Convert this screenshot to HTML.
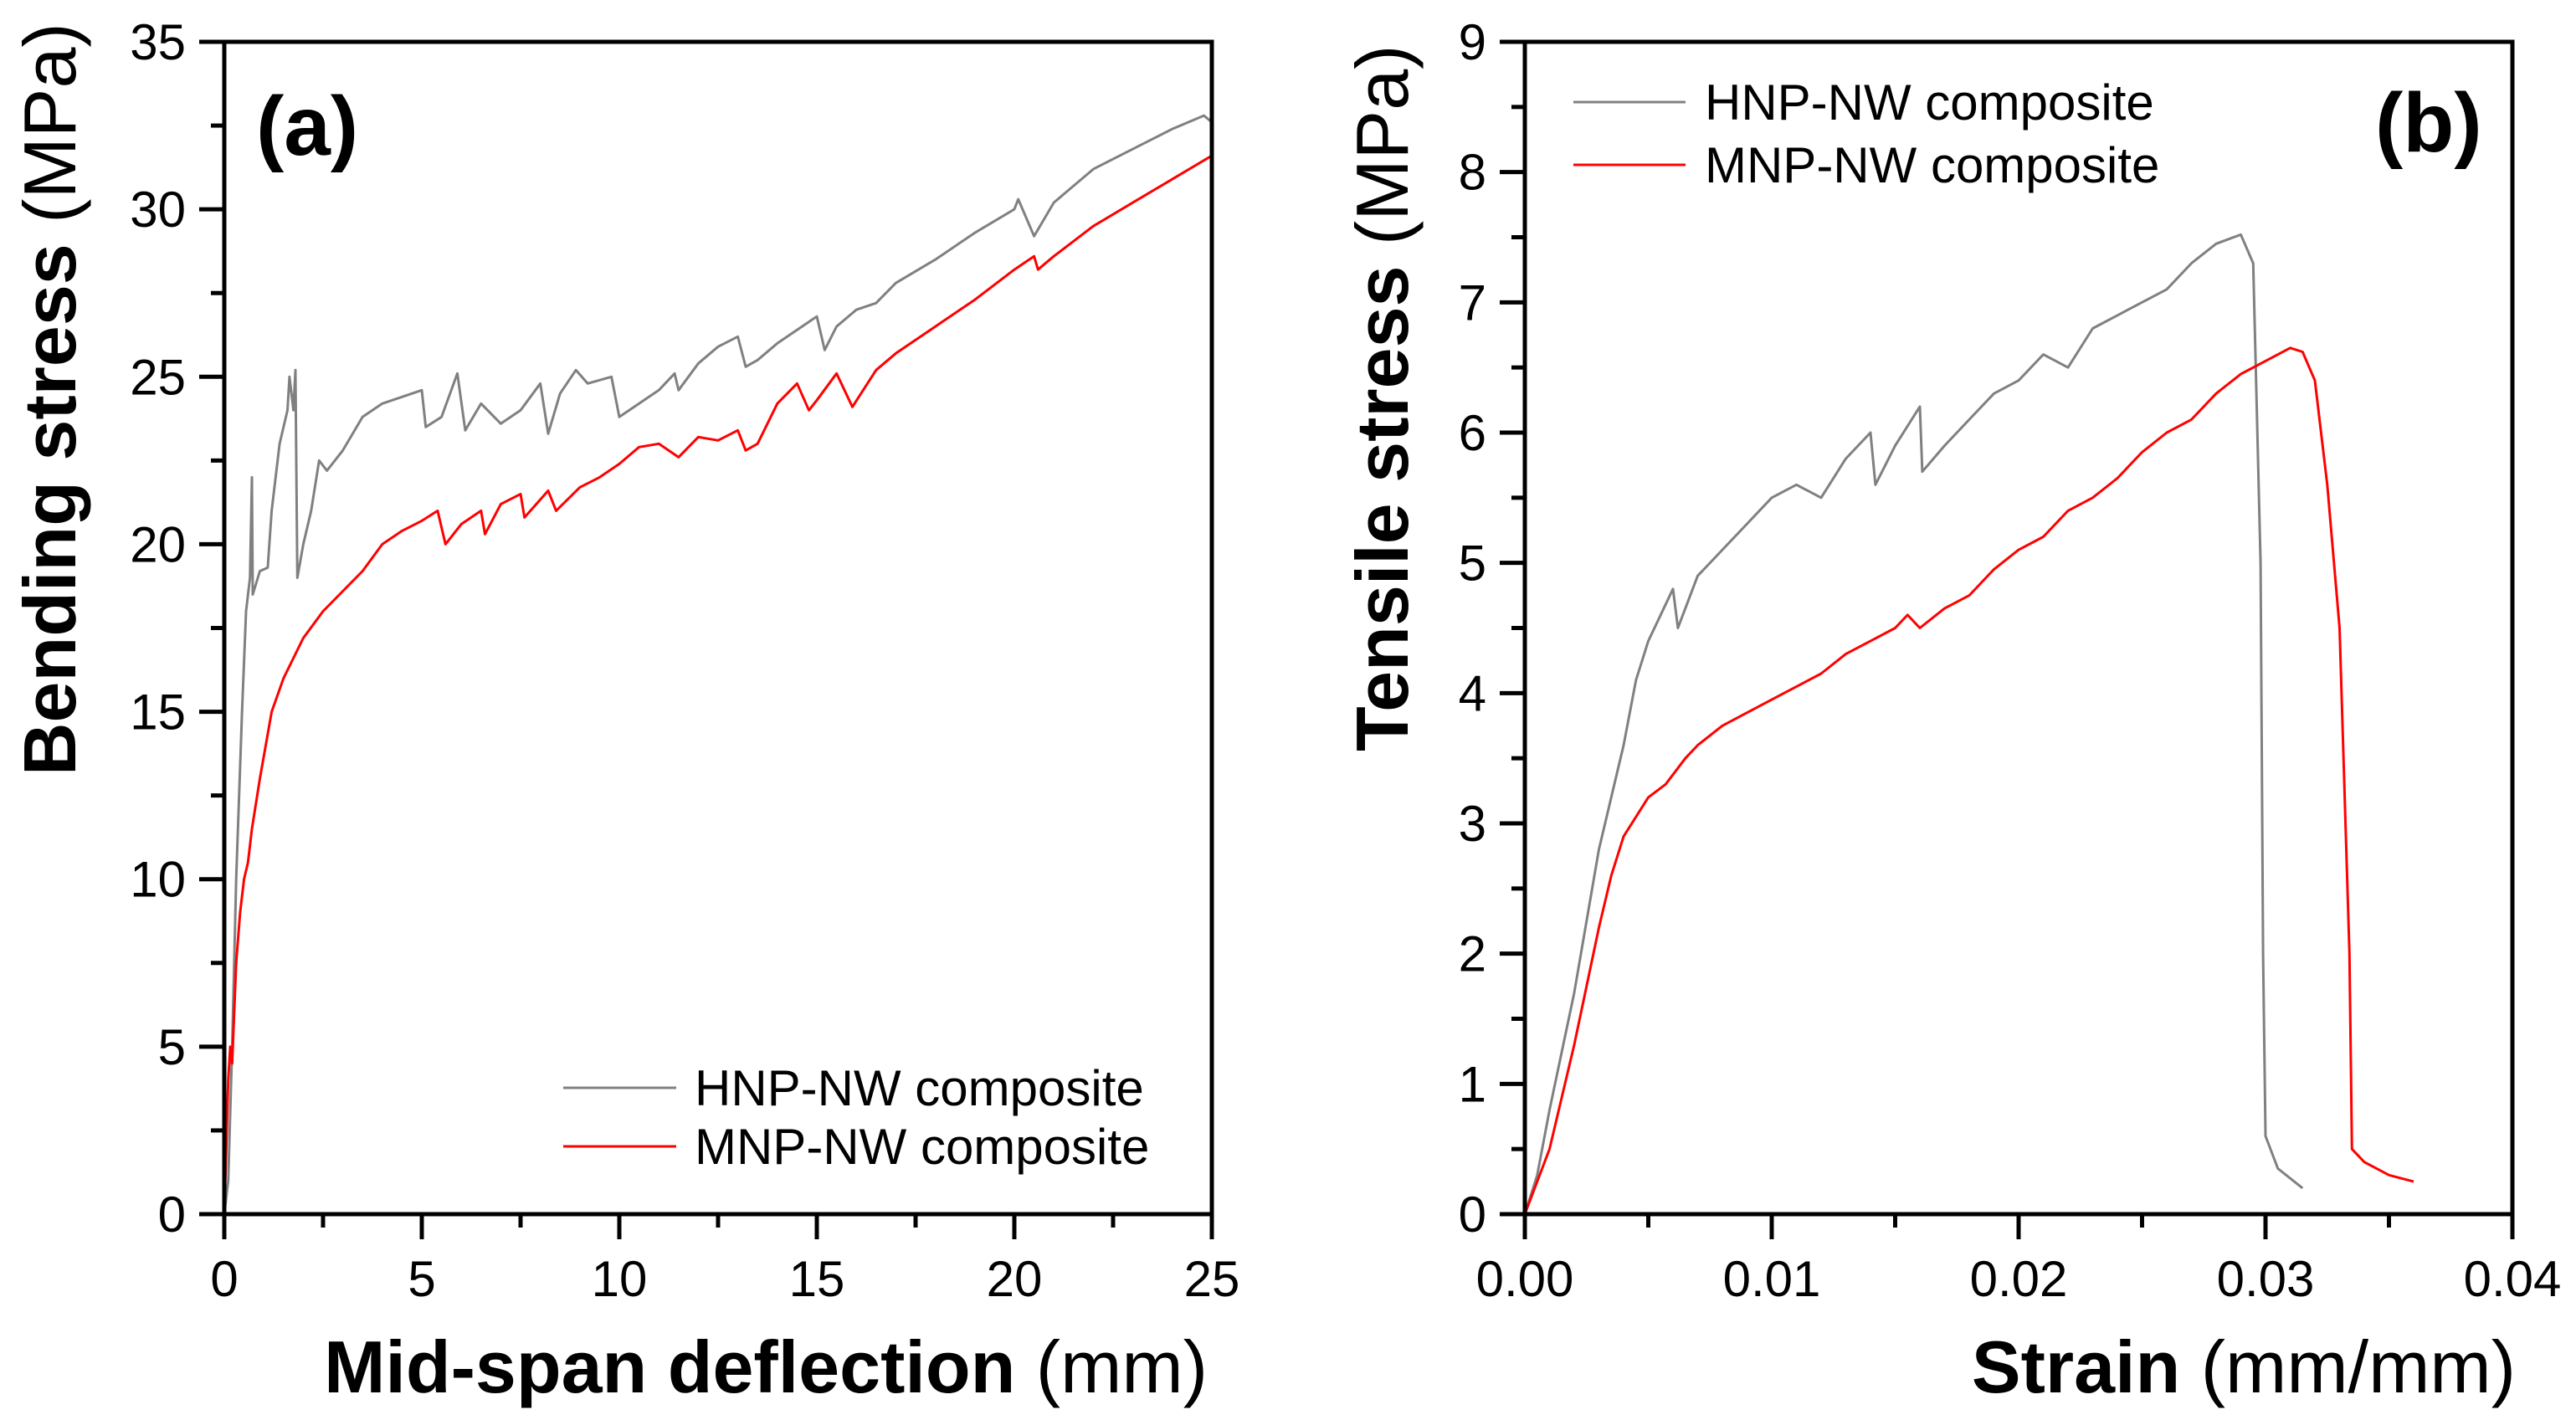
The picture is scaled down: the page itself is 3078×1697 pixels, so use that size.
<!DOCTYPE html>
<html><head><meta charset="utf-8"><style>
html,body{margin:0;padding:0;background:#fff}
svg{display:block;font-family:"Liberation Sans",Arial,sans-serif}
</style></head><body>
<svg id="fig" width="3078" height="1697" viewBox="0 0 3078 1697" xmlns="http://www.w3.org/2000/svg"></svg>
<script>
// Panel (a) data: deflection (mm), bending stress (MPa)
const aHnpX=[0,0.1,0.2,0.3,0.45,0.55,0.65,0.7,0.72,0.9,1.1,1.2,1.4,1.6,1.65,1.75,1.8,1.85,2.0,2.2,2.4,2.6,3,3.5,4,4.5,5,5.1,5.5,5.9,6.1,6.5,7,7.5,8,8.2,8.5,8.9,9.2,9.8,10,10.5,11,11.4,11.5,12,12.5,13,13.2,13.5,14,14.5,15,15.2,15.5,16,16.5,17,18,19,20,20.1,20.5,21,22,23,24,24.8,25];
const aHnpY=[0,1,5,10,15,18,19,22,18.5,19.2,19.3,21,23,24,25,24,25.2,19,20,21,22.5,22.2,22.8,23.8,24.2,24.4,24.6,23.5,23.8,25.1,23.4,24.2,23.6,24,24.8,23.3,24.5,25.2,24.8,25,23.8,24.2,24.6,25.1,24.6,25.4,25.9,26.2,25.3,25.5,26,26.4,26.8,25.8,26.5,27,27.2,27.8,28.5,29.3,30,30.3,29.2,30.2,31.2,31.8,32.4,32.8,32.6];
const aMnpX=[0,0.05,0.1,0.15,0.2,0.3,0.4,0.5,0.6,0.7,0.9,1.2,1.5,2,2.5,3,3.5,4,4.5,5,5.4,5.6,6,6.5,6.6,7,7.5,7.6,8.2,8.4,9,9.5,10,10.5,11,11.5,12,12.5,13,13.2,13.5,14,14.5,14.8,15,15.5,15.9,16.5,17,18,19,20,20.5,20.6,21,22,23,24,25];
const aMnpY=[0,2,4,5,4.5,7.5,9,10,10.5,11.5,13,15,16,17.2,18,18.6,19.2,20,20.4,20.7,21,20,20.6,21,20.3,21.2,21.5,20.8,21.6,21,21.7,22,22.4,22.9,23,22.6,23.2,23.1,23.4,22.8,23,24.2,24.8,24,24.3,25.1,24.1,25.2,25.7,26.5,27.3,28.2,28.6,28.2,28.6,29.5,30.2,30.9,31.6];
const aXTicks=[0,5,10,15,20,25];
const aYTicks=[0,5,10,15,20,25,30,35];
// Panel (b) data: strain (mm/mm), tensile stress (MPa)
const bHnpX=[0,0.0005,0.001,0.002,0.003,0.004,0.0045,0.005,0.006,0.0062,0.007,0.008,0.009,0.010,0.011,0.012,0.013,0.014,0.0142,0.015,0.016,0.0161,0.017,0.018,0.019,0.020,0.021,0.022,0.023,0.024,0.025,0.026,0.027,0.028,0.029,0.0295,0.0298,0.0299,0.030,0.0305,0.0315];
const bHnpY=[0,0.3,0.8,1.7,2.8,3.6,4.1,4.4,4.8,4.5,4.9,5.1,5.3,5.5,5.6,5.5,5.8,6.0,5.6,5.9,6.2,5.7,5.9,6.1,6.3,6.4,6.6,6.5,6.8,6.9,7.0,7.1,7.3,7.45,7.52,7.3,5,2,0.6,0.35,0.2];
const bMnpX=[0,0.001,0.002,0.003,0.0035,0.004,0.005,0.0057,0.0065,0.007,0.008,0.009,0.010,0.011,0.012,0.013,0.014,0.015,0.0155,0.016,0.017,0.018,0.019,0.020,0.021,0.022,0.023,0.024,0.025,0.026,0.027,0.028,0.029,0.030,0.031,0.0315,0.032,0.0325,0.033,0.0334,0.0335,0.034,0.035,0.036];
const bMnpY=[0,0.5,1.3,2.2,2.6,2.9,3.2,3.3,3.5,3.6,3.75,3.85,3.95,4.05,4.15,4.3,4.4,4.5,4.6,4.5,4.65,4.75,4.95,5.1,5.2,5.4,5.5,5.65,5.85,6.0,6.1,6.3,6.45,6.55,6.65,6.62,6.4,5.6,4.5,2.0,0.5,0.4,0.3,0.25];
const bXTicks=[0,0.01,0.02,0.03,0.04];
const bXTickLabels=["0.00","0.01","0.02","0.03","0.04"];
const bYTicks=[0,1,2,3,4,5,6,7,8,9];

const NS="http://www.w3.org/2000/svg";
const svg=document.getElementById('fig');
function mk(tag,attrs,parent){const e=document.createElementNS(NS,tag);for(const k in attrs)e.setAttribute(k,attrs[k]);(parent||svg).appendChild(e);return e;}

function panel(o){
  const g=mk('g',{});
  
  
  const sx=v=>o.x0+(v-o.xmin)/(o.xmax-o.xmin)*(o.x1-o.x0);
  const sy=v=>o.y0-(v-o.ymin)/(o.ymax-o.ymin)*(o.y0-o.y1);
  o.series.forEach(s=>{
    let d='';
    s.x.forEach((v,i)=>{d+=(i?'L':'M')+sx(v).toFixed(1)+' '+sy(s.y[i]).toFixed(1);});
    const p=mk('path',{d:d,fill:'none',stroke:s.color,'stroke-width':3,'stroke-linejoin':'round'},g);
    
    
  });
  const fr=mk('rect',{x:o.x0,y:o.y1,width:o.x1-o.x0,height:o.y0-o.y1,fill:'none',stroke:'#000','stroke-width':5},g);
  
  
  o.xt.forEach((v,i)=>{
    const X=sx(v);
    mk('line',{x1:X,x2:X,y1:o.y0,y2:o.y0+30,stroke:'#000','stroke-width':5},g);
    const t=mk('text',{x:X,y:o.y0+98,'font-size':60,'text-anchor':'middle',fill:'#000'},g);
    t.textContent=o.xl?o.xl[i]:String(v);
    
    
    if(i<o.xt.length-1){const M=sx(v+o.xstep/2);mk('line',{x1:M,x2:M,y1:o.y0,y2:o.y0+16,stroke:'#000','stroke-width':5},g);}
  });
  o.yt.forEach((v,i)=>{
    const Y=sy(v);
    mk('line',{x1:o.x0-30,x2:o.x0,y1:Y,y2:Y,stroke:'#000','stroke-width':5},g);
    const t=mk('text',{x:o.x0-46,y:Y+21,'font-size':60,'text-anchor':'end',fill:'#000'},g);
    t.textContent=String(v);
    
    
    if(i<o.yt.length-1){const M=sy(v+o.ystep/2);mk('line',{x1:o.x0-16,x2:o.x0,y1:M,y2:M,stroke:'#000','stroke-width':5},g);}
  });
  return g;
}

panel({name:'panel-a',x0:268,x1:1448,y0:1451,y1:50,xmin:0,xmax:25,ymin:0,ymax:35,xt:aXTicks,yt:aYTicks,xstep:5,ystep:5,
  series:[{name:'hnp-nw-line-a',x:aHnpX,y:aHnpY,color:'#808080'},{name:'mnp-nw-line-a',x:aMnpX,y:aMnpY,color:'#ff0000'}]});
panel({name:'panel-b',x0:1822,x1:3002,y0:1451,y1:50,xmin:0,xmax:0.04,ymin:0,ymax:9,xt:bXTicks,xl:bXTickLabels,yt:bYTicks,xstep:0.01,ystep:1,
  series:[{name:'hnp-nw-line-b',x:bHnpX,y:bHnpY,color:'#808080'},{name:'mnp-nw-line-b',x:bMnpX,y:bMnpY,color:'#ff0000'}]});
</script>
<script>
(function(){
const NS="http://www.w3.org/2000/svg";
const svg=document.getElementById('fig');
const extra=`
<text x="306" y="185" font-size="100" font-weight="bold">(a)</text>
<text x="2838" y="181" font-size="100" font-weight="bold">(b)</text>
<text x="1443" y="1664" font-size="88" text-anchor="end"><tspan font-weight="bold">Mid-span deflection</tspan> (mm)</text>
<text x="3006" y="1664" font-size="88" text-anchor="end"><tspan font-weight="bold">Strain</tspan> (mm/mm)</text>
<text transform="translate(90,927) rotate(-90)" font-size="88"><tspan font-weight="bold">Bending stress</tspan> (MPa)</text>
<text transform="translate(1682,898) rotate(-90)" font-size="88"><tspan font-weight="bold">Tensile stress</tspan> (MPa)</text>
<g>
<line x1="673" x2="808" y1="1300" y2="1300" stroke="#808080" stroke-width="3"/>
<text x="830" y="1321" font-size="60">HNP-NW composite</text>
<line x1="673" x2="808" y1="1370" y2="1370" stroke="#ff0000" stroke-width="3"/>
<text x="830" y="1391" font-size="60">MNP-NW composite</text>
</g>
<g>
<line x1="1880" x2="2014" y1="122" y2="122" stroke="#808080" stroke-width="3"/>
<text x="2037" y="143" font-size="60">HNP-NW composite</text>
<line x1="1880" x2="2014" y1="197" y2="197" stroke="#ff0000" stroke-width="3"/>
<text x="2037" y="218" font-size="60">MNP-NW composite</text>
</g>`;
const tmp=document.createElementNS(NS,'g');
tmp.innerHTML=extra;
while(tmp.firstChild)svg.appendChild(tmp.firstChild);
})();
</script>
</body></html>
